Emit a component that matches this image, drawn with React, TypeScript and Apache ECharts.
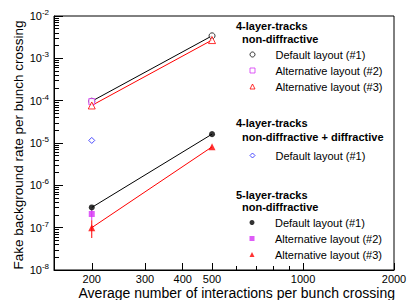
import React, { useEffect, useRef } from 'react';
import * as echarts from 'echarts';

// ---- data ----
const xPoints = [200, 500];
const nd4Default = [9.7e-5, 3.4e-3];
const nd4Alt2 = [9.5e-5];
const nd4Alt3 = [7.7e-5, 2.7e-3];
const ndd4Default = [1.15e-5];
const nd5Default = [3.0e-7, 1.62e-5];
const nd5Alt2 = [2.1e-7];
const nd5Alt3 = [1.0e-7, 8.1e-6];
const nd5Alt2Err = [[1.5e-7, 2.7e-7]];
const nd5Alt3Err = [[5.7e-8, 1.5e-7]];

const xLabelValues = [200, 300, 400, 500, 1000, 2000];
const xMinorValues = [600, 700, 800, 900];
const yDecades = [-8, -7, -6, -5, -4, -3, -2];
const yMinorMultipliers = [2, 3, 4, 5, 6, 7, 8, 9];

const legendNames: Record<string, string> = {
  nd4_1: 'Default layout (#1)',
  nd4_2: 'Alternative layout (#2)',
  nd4_3: 'Alternative layout (#3)',
  ndd4_1: 'Default layout (#1)',
  nd5_1: 'Default layout (#1)',
  nd5_2: 'Alternative layout (#2)',
  nd5_3: 'Alternative layout (#3)',
};

const BLACK = '#000000';
const MAGENTA = '#d633f5';
const RED = '#ff0000';
const BLUE = '#2020ff';
const FONT = 'Liberation Sans, Arial, Helvetica, sans-serif';

const lg = (v: number) => Math.log10(v);
const pts = (ys: number[]) => ys.map((y, i) => [xPoints[i], y]);

export default function App() {
  const ref = useRef<HTMLDivElement>(null);
  useEffect(() => {
    if (!ref.current) return;
    const chart = echarts.init(ref.current, undefined, { renderer: 'svg' });

    const yMinor: number[] = [];
    yDecades.slice(0, -1).forEach((d) => yMinorMultipliers.forEach((m) => yMinor.push(lg(m) + d)));

    const scatter = (name: string, ys: number[], symbol: string, color: string, filled: boolean, size = 6) => ({
      type: 'scatter', name, data: pts(ys), symbol, symbolSize: size, z: 5,
      itemStyle: filled ? { color } : { color: '#ffffff', borderColor: color, borderWidth: 1 },
    });
    const line = (ys: number[], color: string) => ({
      type: 'line', data: pts(ys), showSymbol: false, symbol: 'none', silent: true, z: 3,
      lineStyle: { color, width: 1 },
    });
    const errBar = (lohi: number[], color: string) => ({
      type: 'line', data: [[xPoints[0], lohi[0]], [xPoints[0], lohi[1]]], showSymbol: false, symbol: 'none', silent: true, z: 2,
      lineStyle: { color, width: 1 },
    });

    const legendBase = {
      orient: 'vertical', left: 249.5, itemWidth: 5, itemHeight: 5, itemGap: 5, padding: 0,
      selectedMode: false, formatter: (n: string) => `{g|}${legendNames[n]}`,
      textStyle: { fontSize: 11, color: BLACK, fontFamily: FONT, rich: { g: { width: 15.5 } } },
      itemStyle: { borderWidth: 1 },
    };

    const header = (text: string, x: number, y: number) => ({
      type: 'text', x, y,
      style: { text, fontSize: 11, fontWeight: 'bold', fill: BLACK, fontFamily: FONT, textVerticalAlign: 'middle' },
    });

    chart.setOption({
      animation: false,
      backgroundColor: '#ffffff',
      textStyle: { fontFamily: FONT },
      grid: { left: 54, right: 21, top: 16, bottom: 30, show: true, borderColor: BLACK, borderWidth: 1, containLabel: false },
      xAxis: [
        { type: 'log', min: 150, max: 2000, position: 'bottom', axisLine: { show: false }, axisTick: { show: false }, axisLabel: { show: false }, splitLine: { show: false } },
        {
          type: 'value', min: lg(150), max: lg(2000), position: 'bottom',
          axisLine: { show: true, lineStyle: { color: BLACK, width: 1 } },
          axisTick: { show: true, inside: true, length: 7, customValues: xLabelValues.map(lg), lineStyle: { color: BLACK } },
          axisLabel: { show: true, customValues: xLabelValues.map(lg), formatter: (v: number) => String(Math.round(Math.pow(10, v))), fontSize: 11, color: BLACK, margin: 3, fontFamily: FONT },
          splitLine: { show: false },
        },
        {
          type: 'value', min: lg(150), max: lg(2000), position: 'bottom',
          axisLine: { show: false },
          axisTick: { show: true, inside: true, length: 4, customValues: xMinorValues.map(lg), lineStyle: { color: BLACK } },
          axisLabel: { show: false }, splitLine: { show: false },
        },
      ],
      yAxis: [
        { type: 'log', min: 1e-8, max: 1e-2, position: 'left', axisLine: { show: false }, axisTick: { show: false }, axisLabel: { show: false }, splitLine: { show: false } },
        {
          type: 'value', min: -8, max: -2, position: 'left',
          axisLine: { show: true, lineStyle: { color: BLACK, width: 1 } },
          axisTick: { show: true, inside: true, length: 9, customValues: yDecades, lineStyle: { color: BLACK } },
          axisLabel: {
            show: true, customValues: yDecades, margin: 5,
            formatter: (v: number) => `{b|10}{s|${Math.round(v)}}`,
            rich: {
              b: { fontSize: 11, color: BLACK, fontFamily: FONT },
              s: { fontSize: 8, color: BLACK, fontFamily: FONT, padding: [0, 0, 7, 0] },
            },
          },
          splitLine: { show: false },
        },
        {
          type: 'value', min: -8, max: -2, position: 'left',
          axisLine: { show: false },
          axisTick: { show: true, inside: true, length: 5, customValues: yMinor, lineStyle: { color: BLACK } },
          axisLabel: { show: false }, splitLine: { show: false },
        },
      ],
      legend: [
        { ...legendBase, top: 49, data: ['nd4_1', 'nd4_2', 'nd4_3'] },
        { ...legendBase, top: 150, data: ['ndd4_1'] },
        { ...legendBase, top: 217, data: ['nd5_1', 'nd5_2', 'nd5_3'] },
      ],
      graphic: [
        header('4-layer-tracks', 236, 26),
        header('non-diffractive', 242, 38.5),
        header('4-layer-tracks', 236, 122.5),
        header('non-diffractive + diffractive', 242, 137),
        header('5-layer-tracks', 236, 194.5),
        header('non-diffractive', 242, 207),
        {
          type: 'text', x: 395, y: 292.5,
          style: { text: 'Average number of interactions per bunch crossing', fontSize: 14, fill: BLACK, fontFamily: FONT, textAlign: 'right', textVerticalAlign: 'middle' },
        },
        {
          type: 'text', x: 18.5, y: 145, rotation: Math.PI / 2,
          style: { text: 'Fake background rate per bunch crossing', fontSize: 13.5, fill: BLACK, fontFamily: FONT, textAlign: 'center', textVerticalAlign: 'middle' },
        },
      ],
      series: [
        line(nd4Default, BLACK),
        line(nd4Alt3, RED),
        line(nd5Default, BLACK),
        line(nd5Alt3, RED),
        errBar(nd5Alt2Err[0], MAGENTA),
        errBar(nd5Alt3Err[0], RED),
        scatter('nd4_1', nd4Default, 'circle', BLACK, false),
        scatter('nd4_2', nd4Alt2, 'rect', MAGENTA, false),
        scatter('nd4_3', nd4Alt3, 'triangle', RED, false, 7),
        scatter('ndd4_1', ndd4Default, 'diamond', BLUE, false, 6),
        scatter('nd5_1', nd5Default, 'circle', BLACK, true),
        scatter('nd5_2', nd5Alt2, 'rect', MAGENTA, true),
        scatter('nd5_3', nd5Alt3, 'triangle', RED, true, 7),
      ],
    });
    return () => chart.dispose();
  }, []);
  return <div ref={ref} style={{ position: 'fixed', left: 0, top: 0, width: 415, height: 300 }} />;
}
